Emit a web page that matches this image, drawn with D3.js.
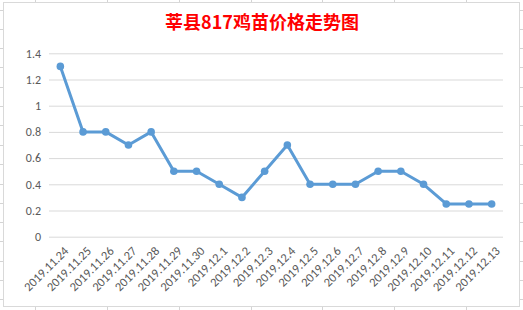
<!DOCTYPE html>
<html>
<head>
<meta charset="utf-8">
<script src="https://cdn.jsdelivr.net/npm/d3@7"></script>
<style>
  body { margin: 0; background: #fff; }
  svg { display: block; }
</style>
</head>
<body>
<svg id="chart"></svg>
<script>
// chart data
var dates = ['2019.11.24', '2019.11.25', '2019.11.26', '2019.11.27', '2019.11.28', '2019.11.29', '2019.11.30',
  '2019.12.1', '2019.12.2', '2019.12.3', '2019.12.4', '2019.12.5', '2019.12.6', '2019.12.7', '2019.12.8',
  '2019.12.9', '2019.12.10', '2019.12.11', '2019.12.12', '2019.12.13'];
var prices = [1.3, 0.8, 0.8, 0.7, 0.8, 0.5, 0.5, 0.4, 0.3, 0.5, 0.7, 0.4, 0.4, 0.4, 0.5, 0.5, 0.4, 0.25, 0.25, 0.25];
var yTicks = [0, 0.2, 0.4, 0.6, 0.8, 1, 1.2, 1.4];
var title = '莘县817鸡苗价格走势图';

var width = 523, height = 310;
var svg = d3.select('#chart').attr('width', width).attr('height', height);

// spreadsheet grid peeking out around the chart
var sheet = svg.append('g').attr('stroke', '#d4d4d4').attr('stroke-width', 1);
var colLines = [35, 107, 179, 251, 322, 394, 466];
var rowLines = [10, 29, 48, 67, 87, 106, 125, 145, 164, 184, 203, 222, 241, 261, 280, 299];
colLines.forEach(function(x) {
  sheet.append('line').attr('x1', x + 0.5).attr('x2', x + 0.5).attr('y1', 0).attr('y2', height);
});
rowLines.forEach(function(y) {
  sheet.append('line').attr('x1', 0).attr('x2', width).attr('y1', y + 0.5).attr('y2', y + 0.5);
});

// chart area
svg.append('rect')
  .attr('x', 3.5).attr('y', 2.5)
  .attr('width', 516).attr('height', 304)
  .attr('fill', '#fff')
  .attr('stroke', '#d9d9d9');

svg.append('text')
  .attr('x', 262).attr('y', 29)
  .attr('text-anchor', 'middle')
  .attr('fill', '#ff0000')
  .attr('font-family', '"Noto Sans CJK SC", sans-serif')
  .attr('font-weight', 'bold')
  .attr('font-size', 18)
  .text(title);

var plotLeft = 49, plotRight = 503, plotTop = 53.3, plotBottom = 236.7;

var xScale = d3.scaleBand().domain(dates).range([plotLeft, plotRight]);
var yScale = d3.scaleLinear().domain([0, 1.4]).range([plotBottom, plotTop]);

// y grid + labels
var yAxis = d3.axisLeft(yScale)
  .tickValues(yTicks)
  .tickSize(-(plotRight - plotLeft))
  .tickPadding(8)
  .tickFormat(d3.format('~g'));

var yg = svg.append('g')
  .attr('transform', 'translate(' + plotLeft + ',0)')
  .call(yAxis);
yg.select('.domain').remove();
yg.selectAll('.tick line').attr('stroke', '#d9d9d9');
yg.selectAll('.tick text')
  .attr('fill', '#595959')
  .attr('font-family', 'Carlito, Calibri, "Liberation Sans", sans-serif')
  .attr('font-size', 12);

// x labels
var xAxis = d3.axisBottom(xScale).tickSize(0).tickPadding(0);
var xg = svg.append('g')
  .attr('transform', 'translate(0,' + plotBottom + ')')
  .call(xAxis);
xg.select('.domain').remove();
xg.selectAll('.tick text')
  .attr('fill', '#595959')
  .attr('font-family', 'Carlito, Calibri, "Liberation Sans", sans-serif')
  .attr('font-size', 12.5)
  .attr('text-anchor', 'end')
  .attr('dy', null)
  .attr('transform', 'translate(9,15) rotate(-45)');

// line + markers
var cx = function(d, i) { return xScale(dates[i]) + xScale.bandwidth() / 2; };
var line = d3.line()
  .x(cx)
  .y(function(d) { return yScale(d); });

svg.append('path')
  .datum(prices)
  .attr('d', line)
  .attr('fill', 'none')
  .attr('stroke', '#5b9bd5')
  .attr('stroke-width', 3)
  .attr('stroke-linejoin', 'round');

svg.append('g').selectAll('circle').data(prices)
  .enter()
  .append('circle')
  .attr('cx', cx)
  .attr('cy', function(d) { return yScale(d); })
  .attr('r', 3.8)
  .attr('fill', '#5b9bd5');
</script>
</body>
</html>
